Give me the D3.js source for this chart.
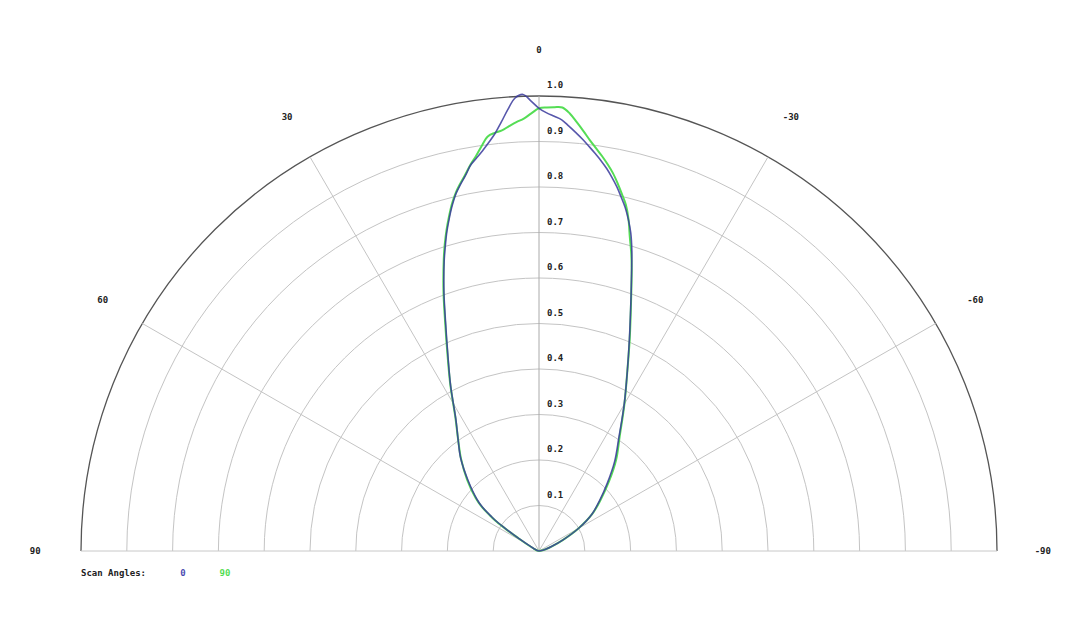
<!DOCTYPE html>
<html>
<head>
<meta charset="utf-8">
<script src="https://cdn.jsdelivr.net/npm/d3@7"></script>
<style>
  body { margin: 0; background: #fff; }
  text { font-family: "DejaVu Sans Mono", monospace; font-size: 9px; font-weight: bold; fill: #222; }
</style>
</head>
<body>
<svg id="chart"></svg>
<script>
// angles in degrees, positive to the left
var angles = [-90, -80, -75, -70, -65, -60, -55, -50, -45, -40, -35, -30, -26, -23, -20,
  -18, -17, -16, -15, -14, -13, -12, -11, -10, -9, -8, -7, -6, -5, -4, -3, -2, -1,
  0, 1, 2, 3, 4, 5, 6, 7, 8, 9, 10, 11, 12, 13, 14, 15, 16, 17, 18,
  20, 22, 25, 28, 32, 36, 40, 45, 50, 52, 54, 55, 56, 57, 58, 60, 65, 75, 90];

var scan0 = [0, 0.006, 0.015, 0.030, 0.058, 0.100, 0.141, 0.173, 0.211, 0.257, 0.304, 0.372, 0.440, 0.505, 0.587,
  0.655, 0.693, 0.727, 0.754, 0.778, 0.798, 0.818, 0.836, 0.853, 0.868, 0.882, 0.896, 0.910, 0.923, 0.936, 0.949, 0.956, 0.963,
  0.973, 0.989, 1.004, 0.997, 0.973, 0.946, 0.922, 0.904, 0.888, 0.874, 0.861, 0.841, 0.824, 0.806, 0.783, 0.757, 0.730, 0.700, 0.670,
  0.607, 0.545, 0.470, 0.411, 0.343, 0.300, 0.266, 0.219, 0.177, 0.157, 0.128, 0.113, 0.090, 0.070, 0.050, 0.030, 0.012, 0.004, 0];

var scan90 = [0, 0.006, 0.015, 0.030, 0.058, 0.100, 0.142, 0.176, 0.216, 0.262, 0.307, 0.373, 0.440, 0.507, 0.588,
  0.655, 0.688, 0.719, 0.755, 0.784, 0.805, 0.826, 0.846, 0.863, 0.879, 0.894, 0.910, 0.928, 0.946, 0.964, 0.976, 0.976, 0.975,
  0.973, 0.962, 0.951, 0.944, 0.936, 0.928, 0.924, 0.918, 0.899, 0.879, 0.862, 0.843, 0.826, 0.808, 0.786, 0.760, 0.733, 0.704, 0.673,
  0.610, 0.548, 0.472, 0.412, 0.344, 0.300, 0.265, 0.222, 0.180, 0.160, 0.131, 0.116, 0.093, 0.072, 0.052, 0.032, 0.013, 0.004, 0];

var ringTicks = [0.1, 0.2, 0.3, 0.4, 0.5, 0.6, 0.7, 0.8, 0.9, 1.0];
var spokeAngles = [-60, -30, 0, 30, 60];
var angleLabels = [90, 60, 30, 0, -30, -60, -90];
var legendLabels = ["0", "90"];

var width = 1080, height = 637,
    cx = 539, cy = 551;

var svg = d3.select("#chart")
    .attr("width", width)
    .attr("height", height);

// the picture is slightly wider than tall
var rx = d3.scaleLinear().domain([0, 1]).range([0, 458]);
var ry = d3.scaleLinear().domain([0, 1]).range([0, 455]);
var rad = function (a) { return a * Math.PI / 180; };
var px = function (a, r) { return cx - rx(r) * Math.sin(rad(a)); };
var py = function (a, r) { return cy - ry(r) * Math.cos(rad(a)); };

var arc = function (r) {
    return "M" + (cx - rx(r)) + "," + cy +
        "A" + rx(r) + "," + ry(r) + " 0 0 1 " + (cx + rx(r)) + "," + cy;
};

var grid = svg.append("g");

grid.selectAll(".ring")
    .data(ringTicks)
    .enter().append("path")
    .attr("class", "ring")
    .attr("fill", "none")
    .attr("stroke", function (d) { return d === 1.0 ? "#555" : "#c4c4c4"; })
    .attr("stroke-width", function (d) { return d === 1.0 ? 1.3 : 1; })
    .attr("d", arc);

grid.selectAll(".spoke")
    .data(spokeAngles)
    .enter().append("line")
    .attr("class", "spoke")
    .attr("stroke", function (d) { return d === 0 ? "#aaa" : "#c4c4c4"; })
    .attr("x1", cx).attr("y1", cy)
    .attr("x2", function (d) { return px(d, 1); })
    .attr("y2", function (d) { return py(d, 1); });

grid.append("line")
    .attr("stroke", "#c8c8c8")
    .attr("x1", px(90, 1)).attr("y1", cy)
    .attr("x2", px(-90, 1)).attr("y2", cy);

grid.selectAll(".rlabel")
    .data(ringTicks)
    .enter().append("text")
    .attr("class", "rlabel")
    .attr("x", cx + 8)
    .attr("y", function (d) { return cy - ry(d) - 10.5; })
    .attr("dominant-baseline", "middle")
    .text(function (d) { return d.toFixed(1); });

grid.selectAll(".alabel")
    .data(angleLabels)
    .enter().append("text")
    .attr("class", "alabel")
    .attr("text-anchor", "middle")
    .attr("dominant-baseline", "middle")
    .attr("x", function (d) { return px(d, 1.1); })
    .attr("y", function (d) { return py(d, 1.1); })
    .text(function (d) { return d; });

var line = d3.line()
    .x(function (d) { return px(d[0], d[1]); })
    .y(function (d) { return py(d[0], d[1]); })
    .curve(d3.curveCatmullRom.alpha(0.5));

svg.append("path")
    .datum(d3.zip(angles, scan90))
    .attr("fill", "none")
    .attr("stroke", "#55dd55")
    .attr("stroke-width", 2)
    .attr("stroke-linejoin", "round")
    .attr("d", line);

svg.append("path")
    .datum(d3.zip(angles, scan0))
    .attr("fill", "none")
    .attr("stroke", "#3a3a9c")
    .attr("stroke-opacity", 0.85)
    .attr("stroke-width", 1.6)
    .attr("stroke-linejoin", "round")
    .attr("d", line);

// legend
var legend = svg.append("g").attr("transform", "translate(0,573)");
legend.append("text")
    .attr("x", 81)
    .attr("dominant-baseline", "middle")
    .text("Scan Angles:");
legend.selectAll(".leg")
    .data(legendLabels)
    .enter().append("text")
    .attr("class", "leg")
    .attr("text-anchor", "middle")
    .attr("dominant-baseline", "middle")
    .attr("x", function (d, i) { return 183 + i * 42; })
    .style("fill", function (d, i) { return i === 0 ? "#4a4ab0" : "#55dd55"; })
    .text(function (d) { return d; });
</script>
</body>
</html>
